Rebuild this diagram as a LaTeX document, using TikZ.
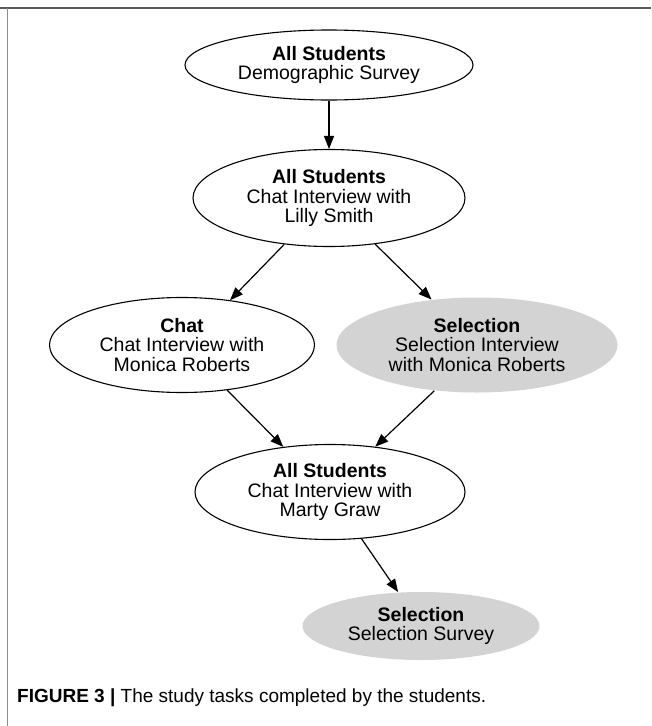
\documentclass[tikz,border=0pt]{standalone}
\usepackage{fontspec}
\setmainfont{Liberation Sans}
\usetikzlibrary{arrows.meta,shapes.geometric}

\definecolor{abu}{HTML}{D3D3D3}
\tikzset{
  tugas/.style={ellipse, draw=black, line width=1.1pt, inner sep=0pt, align=center,
    font=\fontsize{19.5}{19.8}\selectfont},
  pilihan/.style={tugas, draw=none, fill=abu},
  panah/.style={-{Triangle[length=13pt,width=10pt]}, line width=1.2pt},
}

\begin{document}
\begin{tikzpicture}[x=1pt,y=-1pt]

% Batas gambar
\path[use as bounding box] (0,0) rectangle (651,726);
\fill[white] (0,0) rectangle (651,726);
\draw[black!65, line width=2pt] (0,8) -- (651,8);
\draw[black!45, line width=1pt] (7.5,8) -- (7.5,726);

% Tugas-tugas studi
\node[tugas, minimum width=288pt, minimum height=70pt] (survei) at (329,65) {\textbf{All Students}\\Demographic Survey};
\node[tugas, minimum width=272pt, minimum height=97pt] (lilly) at (329,198) {\textbf{All Students}\\Chat Interview with\\Lilly Smith};
\node[tugas, minimum width=265pt, minimum height=95pt] (chat) at (182,345) {\textbf{Chat}\\Chat Interview with\\Monica Roberts};
\node[pilihan, minimum width=281pt, minimum height=95pt] (seleksi) at (477,345) {\textbf{Selection}\\Selection Interview\\with Monica Roberts};
\node[tugas, minimum width=270pt, minimum height=95pt] (marty) at (330,492) {\textbf{All Students}\\Chat Interview with\\Marty Graw};
\node[pilihan, minimum width=237pt, minimum height=68pt] (akhir) at (421,626) {\textbf{Selection}\\Selection Survey};

% Panah antar tugas
\draw[panah] (survei.south) -- (lilly.north);
\draw[panah] (lilly.226) -- (chat.43);
\draw[panah] (lilly.315) -- (seleksi.135);
\draw[panah] (chat.-45) -- (marty.136);
\draw[panah] (seleksi.227) -- (marty.45);
\draw[panah] (marty.-56) -- (akhir.124);

% Keterangan gambar
\node[anchor=base west, inner sep=0pt, font=\fontsize{19}{20}\selectfont] (judul) at (17,702) {\textbf{FIGURE 3 |} The study tasks completed by the students.};
\end{tikzpicture}
\end{document}
